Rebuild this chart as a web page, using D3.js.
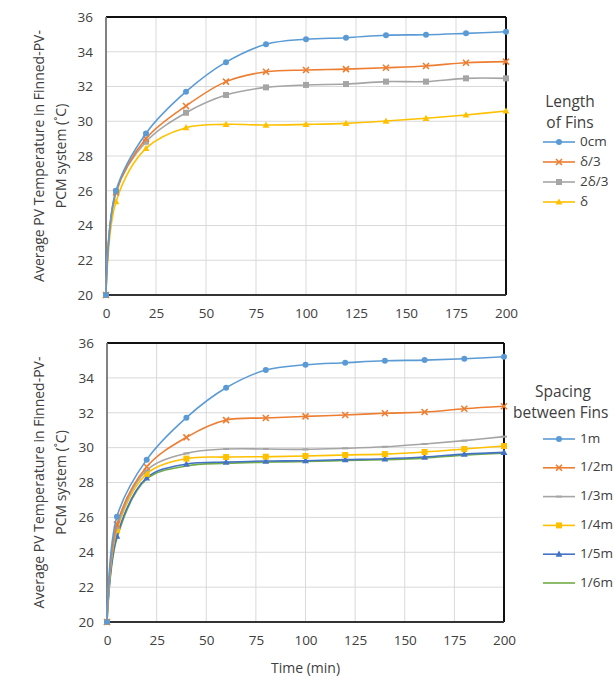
<!DOCTYPE html>
<html><head><meta charset="utf-8">
<script src="https://cdn.jsdelivr.net/npm/d3@7"></script>
<style>
html,body{margin:0;padding:0;background:#fff;overflow:hidden;}
svg{display:block;font-family:"Open Sans",sans-serif;}
</style></head>
<body><svg id="c" width="614" height="677"></svg>
<script>
// ---- data ----
const timeMin = [0, 5, 20, 40, 60, 80, 100, 120, 140, 160, 180, 200];
const xTicks = [0, 25, 50, 75, 100, 125, 150, 175, 200];
const yTicks = [20, 22, 24, 26, 28, 30, 32, 34, 36];

const finLengthNames = ["0cm", "δ/3", "2δ/3", "δ"];
const len0cm = [20, 26.0, 29.3, 31.7, 33.4, 34.43, 34.72, 34.81, 34.95, 34.98, 35.06, 35.15];
const lenD3  = [20, 25.9, 29.0, 30.88, 32.28, 32.85, 32.95, 33.0, 33.08, 33.18, 33.37, 33.43];
const len2D3 = [20, 25.95, 28.82, 30.49, 31.51, 31.95, 32.09, 32.14, 32.28, 32.28, 32.47, 32.47];
const lenD   = [20, 25.37, 28.44, 29.63, 29.82, 29.78, 29.82, 29.88, 30.01, 30.17, 30.36, 30.59];

const spacingNames = ["1m", "1/2m", "1/3m", "1/4m", "1/5m", "1/6m"];
const sp1 = [20, 26.04, 29.31, 31.72, 33.43, 34.45, 34.75, 34.87, 34.98, 35.02, 35.1, 35.21];
const sp2 = [20, 25.6, 28.9, 30.59, 31.58, 31.70, 31.79, 31.87, 31.97, 32.04, 32.23, 32.37];
const sp3 = [20, 25.4, 28.7, 29.67, 29.92, 29.92, 29.90, 29.96, 30.05, 30.21, 30.4, 30.63];
const sp4 = [20, 25.27, 28.5, 29.37, 29.46, 29.48, 29.52, 29.58, 29.63, 29.75, 29.92, 30.09];
const sp5 = [20, 24.93, 28.27, 29.06, 29.17, 29.23, 29.25, 29.31, 29.36, 29.46, 29.63, 29.73];
const sp6 = [20, 24.8, 28.2, 28.95, 29.1, 29.17, 29.2, 29.26, 29.31, 29.4, 29.57, 29.68];

const yTitle1 = "Average PV Temperature in Finned-PV-";
const yTitle2 = "PCM system (˚C)";
const xTitle = "Time (min)";

// ---- styles ----
const C = {blue:"#5B9BD5", orange:"#ED7D31", gray:"#A5A5A5", yellow:"#FFC000", dblue:"#4472C4", green:"#70AD47"};
const svg = d3.select("#c");
const textCol = "#404040";

const panels = [
  {box:{l:106, r:506, t:17, b:295},
   series:[
     {name:finLengthNames[0], vals:len0cm, color:C.blue, marker:"circle"},
     {name:finLengthNames[1], vals:lenD3, color:C.orange, marker:"x"},
     {name:finLengthNames[2], vals:len2D3, color:C.gray, marker:"square"},
     {name:finLengthNames[3], vals:lenD, color:C.yellow, marker:"triangle"}],
   legend:{title:[{t:"Length",x:570,a:"middle"},{t:"of Fins",x:570,a:"middle"}], ty:[103,124], y0:142, dy:20},
   xTitle:false},
  {box:{l:107, r:504, t:343, b:622},
   series:[
     {name:spacingNames[0], vals:sp1, color:C.blue, marker:"circle"},
     {name:spacingNames[1], vals:sp2, color:C.orange, marker:"x"},
     {name:spacingNames[2], vals:sp3, color:C.gray, marker:"dash"},
     {name:spacingNames[3], vals:sp4, color:C.yellow, marker:"square"},
     {name:spacingNames[4], vals:sp5, color:C.dblue, marker:"triangle"},
     {name:spacingNames[5], vals:sp6, color:C.green, marker:"none"}],
   legend:{title:[{t:"Spacing",x:563,a:"middle"},{t:"between Fins",x:513,a:"start"}], ty:[393,414], y0:439, dy:28.8},
   xTitle:true}
];

function drawMarker(g, type, x, y, color){
  if(type==="circle") g.append("circle").attr("cx",x).attr("cy",y).attr("r",3).attr("fill",color);
  else if(type==="square") g.append("rect").attr("x",x-3).attr("y",y-3).attr("width",6).attr("height",6).attr("fill",color);
  else if(type==="triangle") g.append("path").attr("d",`M${x},${y-3.6}L${x+3.4},${y+2.6}L${x-3.4},${y+2.6}Z`).attr("fill",color);
  else if(type==="x") g.append("path").attr("d",`M${x-3},${y-3}L${x+3},${y+3}M${x+3},${y-3}L${x-3},${y+3}`).attr("stroke",color).attr("stroke-width",1.6).attr("fill","none");
  else if(type==="dash") g.append("path").attr("d",`M${x-3},${y}L${x+3},${y}`).attr("stroke",color).attr("stroke-width",2);
}

panels.forEach(p=>{
  const b = p.box;
  const x = d3.scaleLinear().domain([0,200]).range([b.l,b.r]);
  const y = d3.scaleLinear().domain([20,36]).range([b.b,b.t]);
  const g = svg.append("g");

  // gridlines
  g.append("g").selectAll("line").data(yTicks).join("line")
    .attr("x1",b.l).attr("x2",b.r).attr("y1",d=>y(d)).attr("y2",d=>y(d))
    .attr("stroke","#d9d9d9").attr("stroke-width",1);
  g.append("g").selectAll("line").data(xTicks).join("line")
    .attr("y1",b.t).attr("y2",b.b).attr("x1",d=>x(d)).attr("x2",d=>x(d))
    .attr("stroke","#d9d9d9").attr("stroke-width",1);

  // axes (labels only)
  const ya = g.append("g").attr("transform",`translate(${b.l},0)`)
    .call(d3.axisLeft(y).tickValues(yTicks).tickSize(0).tickPadding(13));
  ya.select(".domain").remove();
  ya.selectAll("text").attr("font-size",13.5).attr("fill",textCol).attr("font-family","Open Sans");
  const xa = g.append("g").attr("transform",`translate(0,${b.b})`)
    .call(d3.axisBottom(x).tickValues(xTicks).tickSize(0).tickPadding(13));
  xa.select(".domain").remove();
  xa.selectAll("text").attr("font-size",13.5).attr("fill",textCol).attr("font-family","Open Sans");

  // frame
  g.append("line").attr("x1",b.l).attr("x2",b.r).attr("y1",b.t).attr("y2",b.t).attr("stroke","#111").attr("stroke-width",2);
  g.append("line").attr("x1",b.r).attr("x2",b.r).attr("y1",b.t).attr("y2",b.b).attr("stroke","#111").attr("stroke-width",2);
  g.append("line").attr("x1",b.l).attr("x2",b.r).attr("y1",b.b).attr("y2",b.b).attr("stroke","#333").attr("stroke-width",1.8);
  g.append("line").attr("x1",b.l).attr("x2",b.l).attr("y1",b.t).attr("y2",b.b).attr("stroke","#777").attr("stroke-width",1.8);

  // series
  const line = d3.line().x(d=>x(d[0])).y(d=>y(d[1])).curve(d3.curveCatmullRom.alpha(0.5));
  p.series.slice().reverse().forEach(s=>{
    const pts = timeMin.map((t,i)=>[t,s.vals[i]]);
    g.append("path").attr("d",line(pts)).attr("fill","none").attr("stroke",s.color).attr("stroke-width",1.6);
    const mg = g.append("g");
    if(s.marker!=="none") pts.forEach(d=>drawMarker(mg,s.marker,x(d[0]),y(d[1]),s.color));
  });

  // y title
  const cy = (b.t+b.b)/2;
  g.append("text").attr("transform",`translate(44,${cy}) rotate(-90)`).attr("text-anchor","middle")
    .attr("font-size",14).attr("fill",textCol).text(yTitle1);
  g.append("text").attr("transform",`translate(66,${cy}) rotate(-90)`).attr("text-anchor","middle")
    .attr("font-size",14).attr("fill",textCol).text(yTitle2);

  if(p.xTitle){
    g.append("text").attr("x",(b.l+b.r)/2).attr("y",673).attr("text-anchor","middle")
      .attr("font-size",14).attr("fill",textCol).text(xTitle);
  }

  // legend
  const L = p.legend;
  L.title.forEach((t,i)=>g.append("text").attr("x",t.x).attr("y",L.ty[i]).attr("text-anchor",t.a)
    .attr("dominant-baseline","middle").attr("font-size",15.5).attr("fill",textCol).text(t.t));
  p.series.forEach((s,i)=>{
    const ly = L.y0 + i*L.dy;
    g.append("line").attr("x1",543).attr("x2",575).attr("y1",ly).attr("y2",ly).attr("stroke",s.color).attr("stroke-width",1.6);
    if(s.marker!=="none") drawMarker(g,s.marker,559,ly,s.color);
    g.append("text").attr("x",580).attr("y",ly).attr("dominant-baseline","middle")
      .attr("font-size",13.5).attr("fill",textCol).text(s.name);
  });
});
</script></body></html>
